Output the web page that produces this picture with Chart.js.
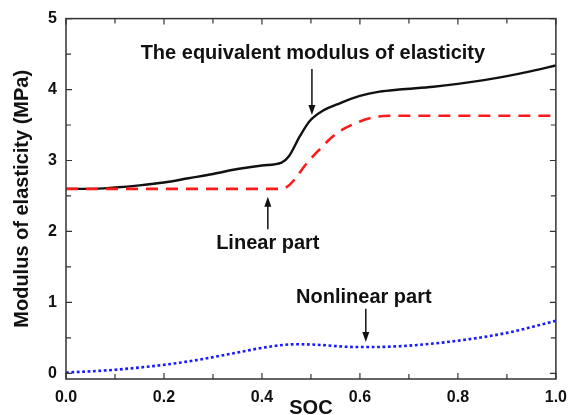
<!DOCTYPE html>
<html>
<head>
<meta charset="utf-8">
<script src="https://cdn.jsdelivr.net/npm/chart.js@4"></script>
<style>
  html, body { margin: 0; padding: 0; background: #fff; }
  #wrap { width: 576px; height: 415px; }
</style>
</head>
<body>
<div id="wrap"><canvas id="canvas" width="576" height="415"></canvas></div>
<script>
// equivalent modulus (black solid)
var socEquivalent = [0, 0.05, 0.1, 0.15, 0.2, 0.25, 0.3, 0.35, 0.4, 0.44, 0.455, 0.478, 0.498, 0.524, 0.56, 0.6, 0.64, 0.68, 0.75, 0.8, 0.85, 0.9, 0.95, 1.0];
var equivalent = [2.60, 2.60, 2.62, 2.65, 2.69, 2.75, 2.81, 2.88, 2.93, 2.97, 3.06, 3.35, 3.56, 3.70, 3.81, 3.91, 3.97, 4.00, 4.04, 4.08, 4.13, 4.19, 4.26, 4.34];

// linear part (red dashed)
var socLinear = [0, 0.44, 0.5, 0.55, 0.6, 0.63, 0.66, 1.0];
var linear = [2.60, 2.60, 3.03, 3.37, 3.55, 3.61, 3.63, 3.63];

// nonlinear part (blue dotted)
var socNonlinear = [0, 0.1, 0.2, 0.27, 0.34, 0.41, 0.47, 0.52, 0.57, 0.62, 0.7, 0.8, 0.9, 1.0];
var nonlinear = [0.01, 0.05, 0.12, 0.19, 0.28, 0.37, 0.41, 0.40, 0.375, 0.37, 0.39, 0.46, 0.57, 0.74];

var xTicks = [0, 0.2, 0.4, 0.6, 0.8, 1.0];
var yTicks = [0, 1, 2, 3, 4, 5];

var FONT = '"Liberation Sans", Arial, sans-serif';

function toPoints(xs, ys) {
    return xs.map(function (x, i) { return { x: x, y: ys[i] }; });
}

// text + arrow, anchored in data units
var notes = [
    { text: 'The equivalent modulus of elasticity', tx: 0.504, ty: 4.51, ax: 0.502, from: 4.29, to: 3.64 },
    { text: 'Linear part', tx: 0.412, ty: 1.83, ax: 0.412, from: 2.03, to: 2.49 },
    { text: 'Nonlinear part', tx: 0.608, ty: 1.07, ax: 0.612, from: 0.91, to: 0.44 }
];

var framePlugin = {
    id: 'frame',
    afterDraw: function (chart) {
        var ctx = chart.ctx;
        var a = chart.chartArea;
        var xs = chart.scales.x, ys = chart.scales.y;
        ctx.save();
        ctx.strokeStyle = '#333';
        ctx.lineWidth = 1.5;
        ctx.strokeRect(a.left, a.top, a.right - a.left, a.bottom - a.top);

        // inward ticks on all four sides
        ctx.lineWidth = 1.2;
        ctx.beginPath();
        for (var i = 0; i <= 10; i++) {
            var px = xs.getPixelForValue(i / 10);
            var len = i % 2 === 0 ? 6 : 5;
            ctx.moveTo(px, a.bottom); ctx.lineTo(px, a.bottom - len);
            ctx.moveTo(px, a.top); ctx.lineTo(px, a.top + len);
        }
        for (var j = 0; j <= 10; j++) {
            var py = ys.getPixelForValue(j / 2);
            var l2 = j % 2 === 0 ? 6 : 5;
            ctx.moveTo(a.left, py); ctx.lineTo(a.left + l2, py);
            ctx.moveTo(a.right, py); ctx.lineTo(a.right - l2, py);
        }
        ctx.stroke();

        // annotations
        ctx.fillStyle = '#111';
        ctx.strokeStyle = '#111';
        ctx.font = 'bold 20px ' + FONT;
        ctx.textAlign = 'center';
        ctx.textBaseline = 'middle';
        notes.forEach(function (n) {
            ctx.fillText(n.text, xs.getPixelForValue(n.tx), ys.getPixelForValue(n.ty));
            var x = xs.getPixelForValue(n.ax);
            var y0 = ys.getPixelForValue(n.from);
            var y1 = ys.getPixelForValue(n.to);
            var dir = y1 > y0 ? 1 : -1;
            ctx.lineWidth = 1.5;
            ctx.beginPath();
            ctx.moveTo(x, y0);
            ctx.lineTo(x, y1 - dir * 8);
            ctx.stroke();
            ctx.beginPath();
            ctx.moveTo(x, y1);
            ctx.lineTo(x - 3.5, y1 - dir * 10);
            ctx.lineTo(x + 3.5, y1 - dir * 10);
            ctx.closePath();
            ctx.fill();
        });
        ctx.restore();
    }
};

var config = {
    type: 'line',
    data: {
        datasets: [
            {
                label: 'Linear part',
                data: toPoints(socLinear, linear),
                borderColor: '#ff1a1a',
                borderWidth: 2.6,
                borderDash: [12, 8],
                pointRadius: 0,
                cubicInterpolationMode: 'monotone',
                fill: false
            },
            {
                label: 'Nonlinear part',
                data: toPoints(socNonlinear, nonlinear),
                borderColor: '#1a1aff',
                borderWidth: 2.6,
                borderDash: [2.8, 2.6],
                pointRadius: 0,
                cubicInterpolationMode: 'monotone',
                fill: false
            },
            {
                label: 'The equivalent modulus of elasticity',
                data: toPoints(socEquivalent, equivalent),
                borderColor: '#111',
                borderWidth: 2.4,
                pointRadius: 0,
                cubicInterpolationMode: 'monotone',
                fill: false
            }
        ]
    },
    options: {
        responsive: false,
        animation: false,
        layout: {
            padding: { left: 0, right: 20, top: 15, bottom: 0 }
        },
        plugins: {
            legend: { display: false },
            tooltip: { enabled: false }
        },
        scales: {
            x: {
                type: 'linear',
                min: 0,
                max: 1,
                afterBuildTicks: function (scale) {
                    scale.ticks = xTicks.map(function (v) { return { value: v }; });
                },
                afterFit: function (scale) { scale.height = 36; },
                grid: { display: false, drawTicks: false },
                border: { display: false },
                ticks: {
                    padding: 9,
                    color: '#111',
                    font: { family: FONT, size: 16, weight: 'bold' },
                    callback: function (v) { return v.toFixed(1); }
                },
                title: {
                    display: true,
                    text: 'SOC',
                    color: '#111',
                    font: { family: FONT, size: 20, weight: 'bold', lineHeight: 1 },
                    padding: { top: 0, bottom: -3 }
                }
            },
            y: {
                type: 'linear',
                min: -0.08,
                max: 5,
                afterBuildTicks: function (scale) {
                    scale.ticks = yTicks.map(function (v) { return { value: v }; });
                },
                afterFit: function (scale) { scale.width = 66; },
                grid: { display: false, drawTicks: false },
                border: { display: false },
                ticks: {
                    padding: 9,
                    color: '#111',
                    font: { family: FONT, size: 16, weight: 'bold' },
                    callback: function (v) { return String(v); }
                },
                title: {
                    display: true,
                    text: 'Modulus of elasticity (MPa)',
                    color: '#111',
                    font: { family: FONT, size: 20, weight: 'bold', lineHeight: 1 },
                    padding: { top: 12, bottom: 0 }
                }
            }
        }
    },
    plugins: [framePlugin]
};

var chart = new Chart(document.getElementById('canvas'), config);
</script>
</body>
</html>
